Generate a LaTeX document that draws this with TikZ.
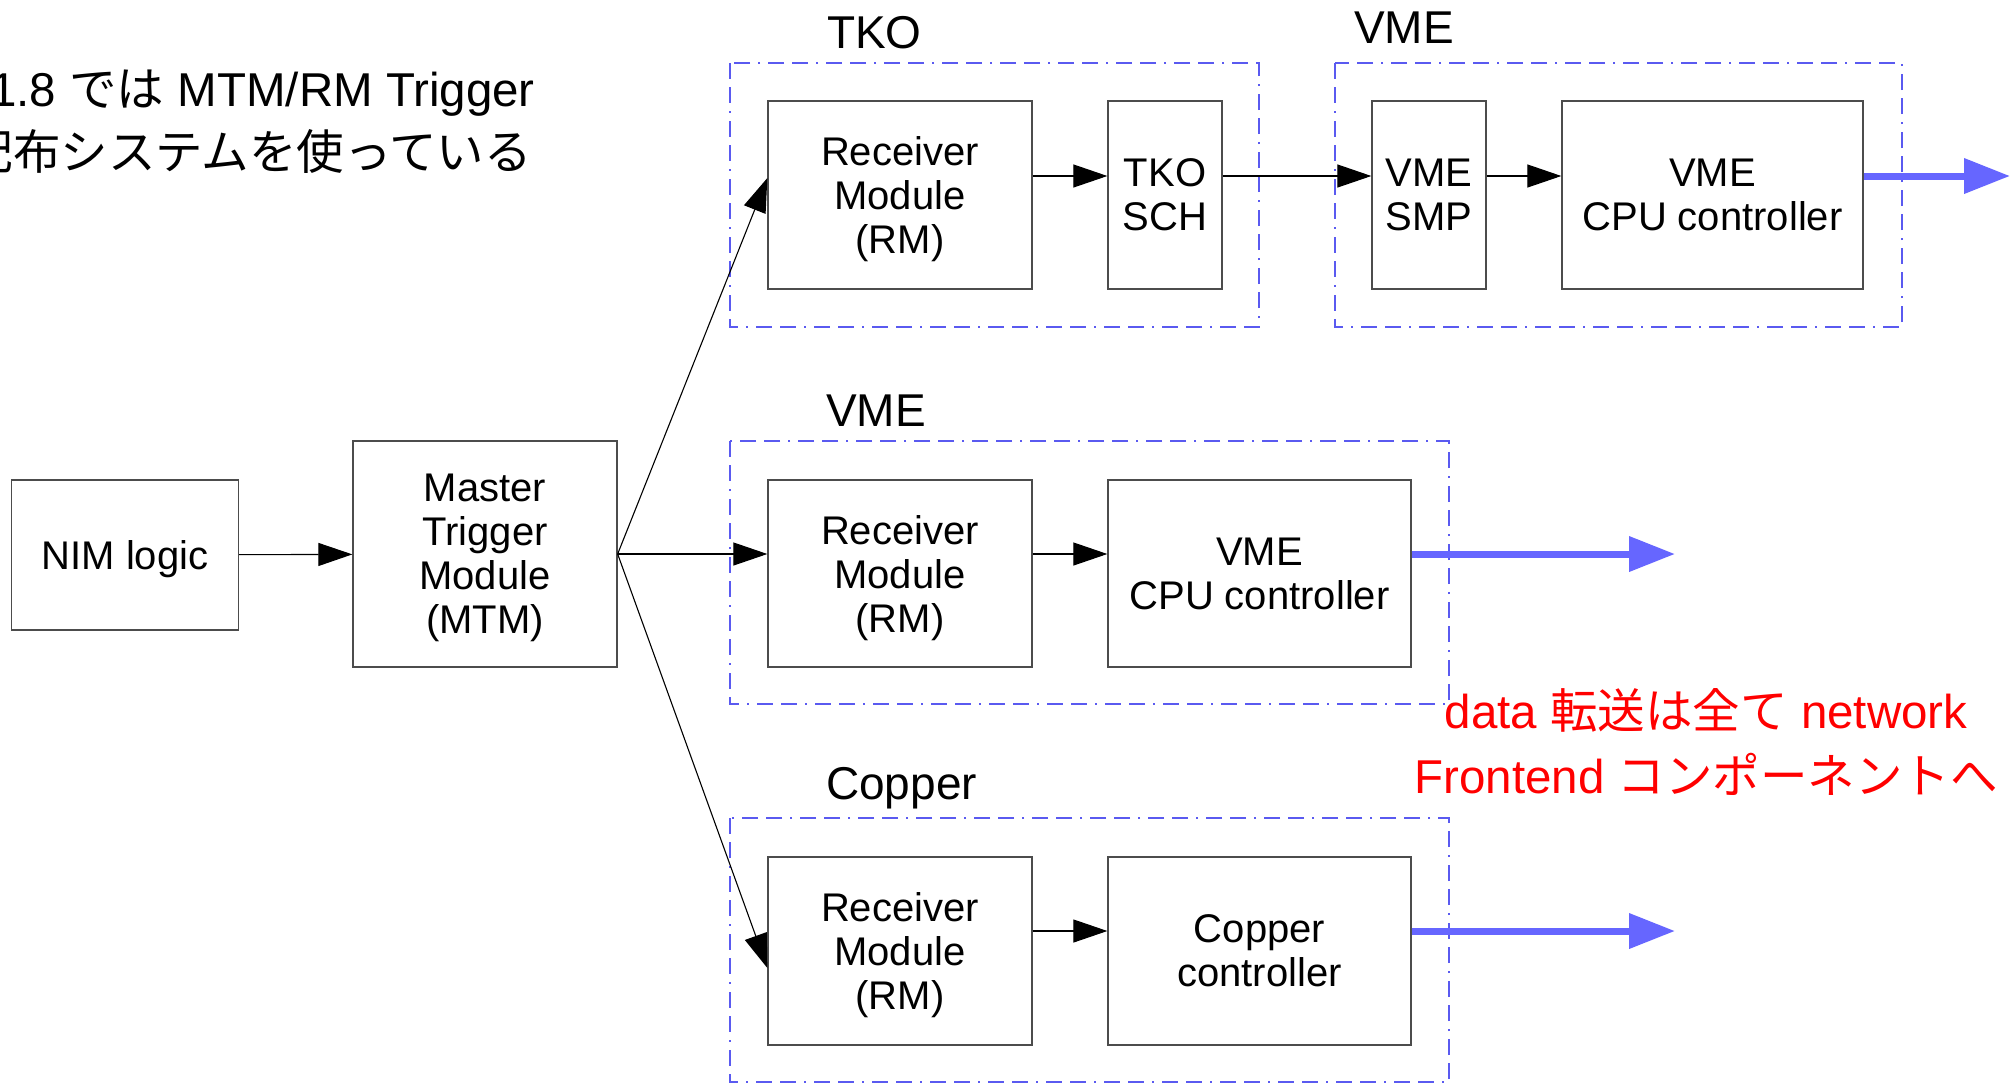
\documentclass[tikz,border=0pt]{standalone}
\usepackage{fontspec}
\setmainfont{Liberation Sans}
\newfontfamily\jp{Noto Sans CJK JP}
\usetikzlibrary{arrows.meta}
\definecolor{flowblue}{RGB}{102,102,255}
\definecolor{framecol}{RGB}{90,90,240}

\begin{document}
\begin{tikzpicture}[x=1pt,y=-1pt,
  modbox/.style={draw=black!70, line width=1.3pt, inner sep=0pt, align=center,
    text depth=0pt, font=\fontsize{40}{44}\selectfont},
  crate/.style={draw=framecol, line width=1.2pt,
    dash pattern=on 16pt off 8pt on 16pt off 8pt on 2pt off 8pt},
  cratelabel/.style={anchor=base west, inner sep=0pt, font=\fontsize{46}{52}\selectfont},
  sig/.style={draw=black, line width=1.1pt, -{Triangle[length=34pt,width=23pt]}},
  dataflow/.style={draw=flowblue, line width=7pt, -{Triangle[length=46pt,width=34pt]}},
  remark/.style={inner sep=0pt, font=\fontsize{47.5}{63}\selectfont}]

\useasboundingbox (0,0) rectangle (2011,1085);

% explanatory text
\node[remark, anchor=base east] (intro1) at (535,106) {1.8 {\jp では} MTM/RM Trigger};
\node[remark, anchor=base east] (intro2) at (532,169) {{\jp 配布システムを使っている}};

% crate frames
\draw[crate] (730,63) rectangle (1259,327);
\draw[crate] (1335,63) rectangle (1902,327);
\draw[crate] (730,441) rectangle (1449,704);
\draw[crate] (730,818) rectangle (1449,1082);

\node[cratelabel] (lblTKO) at (827,48) {TKO};
\node[cratelabel] (lblVMEa) at (1354,43) {VME};
\node[cratelabel] (lblVMEb) at (826,426) {VME};
\node[cratelabel] (lblCu) at (826,799) {Copper};

% trigger source
\node[modbox, minimum width=227pt, minimum height=150pt] (nim) at (125,555) {NIM logic};
\node[modbox, minimum width=264pt, minimum height=226pt] (mtm) at (485,554) {Master\\Trigger\\Module\\(MTM)};

% TKO / VME chain
\node[modbox, minimum width=264pt, minimum height=188pt] (rmA) at (900,195) {Receiver\\Module\\(RM)};
\node[modbox, minimum width=114pt, minimum height=188pt] (schA) at (1165,195) {TKO\\SCH};
\node[modbox, minimum width=114pt, minimum height=188pt] (smpA) at (1429,195) {VME\\SMP};
\node[modbox, minimum width=301pt, minimum height=188pt] (cpuA) at (1712.5,195) {VME\\CPU controller};

% VME chain
\node[modbox, minimum width=264pt, minimum height=187pt] (rmB) at (900,573.5) {Receiver\\Module\\(RM)};
\node[modbox, minimum width=303pt, minimum height=187pt] (cpuB) at (1259.5,573.5) {VME\\CPU controller};

% Copper chain
\node[modbox, minimum width=264pt, minimum height=188pt] (rmC) at (900,951) {Receiver\\Module\\(RM)};
\node[modbox, minimum width=303pt, minimum height=188pt] (ccC) at (1259.5,951) {Copper\\controller};

% free ends of the data outputs
\coordinate (endA) at (2010,176);
\coordinate (endB) at (1675,554);
\coordinate (endC) at (1675,931);

% trigger distribution
\draw[sig] (nim) -- (mtm);
\draw[sig] (mtm.east) -- ([yshift=17pt]rmA.west);
\draw[sig] (mtm.east) -- (mtm.east -| rmB.west);
\draw[sig] (mtm.east) -- ([yshift=-17pt]rmC.west);

\draw[sig] ([yshift=19pt]rmA.east) -- ([yshift=19pt]schA.west);
\draw[sig] ([yshift=19pt]schA.east) -- ([yshift=19pt]smpA.west);
\draw[sig] ([yshift=19pt]smpA.east) -- ([yshift=19pt]cpuA.west);
\draw[sig] ([yshift=19.5pt]rmB.east) -- ([yshift=19.5pt]cpuB.west);
\draw[sig] ([yshift=20pt]rmC.east) -- ([yshift=20pt]ccC.west);

% data outputs
\draw[dataflow] ([yshift=19pt]cpuA.east) -- (endA);
\draw[dataflow] ([yshift=19.5pt]cpuB.east) -- (endB);
\draw[dataflow] ([yshift=20pt]ccC.east) -- (endC);

% note on the data path
\node[remark, text=red, anchor=base] (fwd1) at (1706,728) {data {\jp 転送は全て} network};
\node[remark, text=red, anchor=base] (fwd2) at (1706,793) {Frontend {\jp コンポーネントへ}};

\end{tikzpicture}
\end{document}
